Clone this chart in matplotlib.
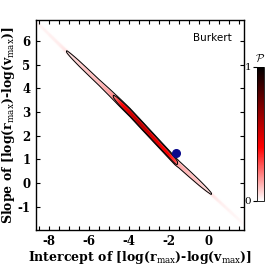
import numpy as np
import matplotlib
matplotlib.use("Agg")
import matplotlib.pyplot as plt
from matplotlib.colors import LinearSegmentedColormap
from matplotlib.ticker import MultipleLocator

plt.rcParams['font.family'] = ['DejaVu Serif', 'DejaVu Sans']
plt.rcParams['mathtext.fontset'] = 'custom'
plt.rcParams['mathtext.rm'] = 'DejaVu Serif'
plt.rcParams['mathtext.bf'] = 'DejaVu Serif:bold'
plt.rcParams['axes.unicode_minus'] = False

# ridge of the probability map
ridge_x = [-8.65, -6.95, -5.0, -3.95, -1.7, -0.05, 1.75]
ridge_y = [6.82, 5.42, 3.85, 2.98, 0.94, -0.32, -1.72]
# peak probability along the ridge
prof_x = [-8.65, -7.5, -7.0, -6.5, -6.0, -5.5, -5.0, -4.7, -4.4, -4.0, -3.5, -3.0, -2.5, -2.0, -1.7, -1.5, -1.0, -0.5, 0.0, 0.5, 1.0, 1.75]
prof_p = [0.015, 0.03, 0.05, 0.08, 0.10, 0.11, 0.15, 0.22, 0.38, 0.50, 0.58, 0.52, 0.45, 0.40, 0.30, 0.14, 0.11, 0.09, 0.05, 0.03, 0.02, 0.01]
prof_w = [0.08, 0.09, 0.10, 0.11, 0.11, 0.11, 0.12, 0.12, 0.12, 0.12, 0.12, 0.12, 0.12, 0.12, 0.12, 0.12, 0.12, 0.11, 0.09, 0.08, 0.08, 0.08]
contour_levels = [0.045, 0.2]
best_x, best_y = -1.67, 1.29
model_name = "Burkert"
xlim = (-8.65, 1.75)
ylim = (-1.96, 6.89)

cmap = LinearSegmentedColormap.from_list('wrk', [(0, 'white'), (0.4, 'red'), (1.0, 'black')])

gx = np.linspace(xlim[0], xlim[1], 600)
gy = np.linspace(ylim[0], ylim[1], 600)
X, Y = np.meshgrid(gx, gy)
yc = np.interp(gx, ridge_x, ridge_y)[None, :]
pk = np.interp(gx, prof_x, prof_p)[None, :]
wd = np.interp(gx, prof_x, prof_w)[None, :]
Z = pk * np.exp(-0.5 * ((Y - yc) / wd) ** 4)

fig = plt.figure(figsize=(2.66, 2.66), dpi=100)
ax = fig.add_axes([36/266, 1-229.5/266, 208/266, 209.5/266])
im = ax.imshow(Z, extent=[xlim[0], xlim[1], ylim[0], ylim[1]], origin='lower',
               cmap=cmap, vmin=0, vmax=1, aspect='auto', interpolation='bilinear')
ax.contour(X, Y, Z, levels=contour_levels, colors='black', linewidths=0.7)
ax.plot([best_x], [best_y], 'o', color='#0a0a8c', ms=5.5, zorder=5)
ax.set_xlim(*xlim)
ax.set_ylim(*ylim)

ax.xaxis.set_major_locator(MultipleLocator(2))
ax.xaxis.set_minor_locator(MultipleLocator(0.5))
ax.yaxis.set_major_locator(MultipleLocator(1))
ax.tick_params(which='both', direction='in', top=True, right=True, length=3, width=0.8)
ax.tick_params(which='major', labelsize=8.5, pad=4)
for lab in ax.get_xticklabels() + ax.get_yticklabels():
    lab.set_fontweight('bold')
for s in ax.spines.values():
    s.set_linewidth(1.0)

ax.set_xlabel(r'Intercept of [log($\mathbf{r}_{\rm max}$)-log($\mathbf{v}_{\rm max}$)]',
              fontsize=9.0, fontweight='bold', labelpad=0.5)
ax.set_ylabel(r'Slope of [log($\mathbf{r}_{\rm max}$)-log($\mathbf{v}_{\rm max}$)]',
              fontsize=9.0, fontweight='bold', labelpad=0.5)
ax.text(0.94, 0.915, model_name, transform=ax.transAxes, ha='right', va='center',
        fontsize=7.5, family='DejaVu Sans')

cax = fig.add_axes([257/266, 1-201/266, 7/266, 134/266])
cb = fig.colorbar(im, cax=cax, ticks=[0, 1])
cb.outline.set_linewidth(0.6)
cax.yaxis.set_ticks_position('left')
cax.yaxis.set_label_position('left')
cax.tick_params(length=3, width=0.8, labelsize=7.5, pad=1)
cax.set_yticklabels(['0', '1'])
cax.text(0.5, 1.02, r'$\mathcal{P}$', transform=cax.transAxes, ha='center', va='bottom',
         fontsize=8, math_fontfamily='cm')

fig.savefig('out.png', dpi=100)
